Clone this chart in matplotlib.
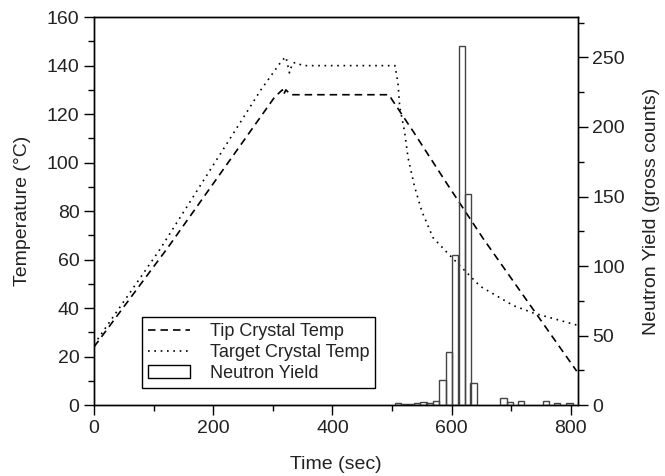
import matplotlib
matplotlib.use("Agg")
import matplotlib.pyplot as plt
from matplotlib.patches import Patch
from matplotlib.lines import Line2D

plt.rcParams['font.family'] = ['Liberation Sans', 'DejaVu Sans']

# Tip crystal temperature (dashed)
tip_t = [0, 124, 303, 316, 318, 322, 330, 495, 500, 536, 592, 653, 810]
tip_T = [24, 65, 127, 130, 128, 130, 128, 128, 126, 112.7, 91.4, 68.7, 14]

# Target crystal temperature (dotted)
tgt_t = [0, 110, 280, 315, 322, 328, 333, 339, 350, 505, 510, 513, 521, 527,
         538, 550, 569, 600, 648, 704, 737, 810]
tgt_T = [25, 64, 130, 142, 143.6, 137, 141, 141.3, 140, 140, 133, 123, 113,
         102, 90, 80, 69, 61, 49, 41, 38, 33]

# Neutron yield histogram
bin_centers = [510, 521, 531, 542, 553, 563, 574, 585, 596, 606, 617, 627, 637,
               687, 698, 717, 758, 777, 798]
counts = [1.5, 0.5, 1, 1.5, 2, 1.5, 3, 18, 38, 108, 258, 152, 16,
          5, 2.5, 3, 3, 1.5, 1.5]
bin_width = 10.5

fig = plt.figure(figsize=(6.65, 4.76), dpi=100)
ax = fig.add_axes([0.1414, 0.149, 0.7276, 0.815])
ax2 = ax.twinx()

ax.plot(tip_t, tip_T, color='black', lw=1.2, linestyle=(0, (4.5, 3)))
ax.plot(tgt_t, tgt_T, color='black', lw=1.2, linestyle=(0, (1, 2.8)))

ax2.bar(bin_centers, counts, width=bin_width, facecolor='none',
        edgecolor='#444444', linewidth=1.0)

ax.set_xlim(0, 812)
ax.set_ylim(0, 160)
ax2.set_ylim(0, 279)

ax.set_xticks([0, 200, 400, 600, 800])
ax.set_xticks([100, 300, 500, 700], minor=True)
ax.set_yticks(range(0, 161, 20))
ax.set_yticks(range(10, 160, 20), minor=True)
ax2.set_yticks([0, 50, 100, 150, 200, 250])
ax2.set_yticks([25, 75, 125, 175, 225, 275], minor=True)

fs = 14
for a in (ax, ax2):
    a.tick_params(which='major', direction='out', length=7, width=1.0,
                  labelsize=fs, colors='black', labelcolor='#222222')
    a.tick_params(which='minor', direction='out', length=4, width=1.0)
    for s in a.spines.values():
        s.set_linewidth(1.0)

ax.set_xlabel('Time (sec)', fontsize=fs, color='#222222', labelpad=14)
ax.set_ylabel('Temperature (°C)', fontsize=fs, color='#222222', labelpad=11)
ax2.set_ylabel('Neutron Yield (gross counts)', fontsize=fs, color='#222222',
               labelpad=13)

handles = [
    Line2D([], [], color='black', lw=1.2, linestyle=(0, (4.5, 3))),
    Line2D([], [], color='black', lw=1.2, linestyle=(0, (1, 2.8))),
    Patch(facecolor='white', edgecolor='black', linewidth=1.0),
]
labels = ['Tip Crystal Temp', 'Target Crystal Temp', 'Neutron Yield']
leg = ax2.legend(handles, labels, loc='lower left',
                 bbox_to_anchor=(0.099, 0.044), borderaxespad=0,
                 fontsize=13, frameon=True, fancybox=False,
                 edgecolor='black', framealpha=1, handlelength=2.3,
                 handletextpad=1.1, labelspacing=0.2, borderpad=0.35)
leg.get_frame().set_linewidth(1.0)
for t in leg.get_texts():
    t.set_color('#222222')

fig.savefig('out.png', dpi=100)
